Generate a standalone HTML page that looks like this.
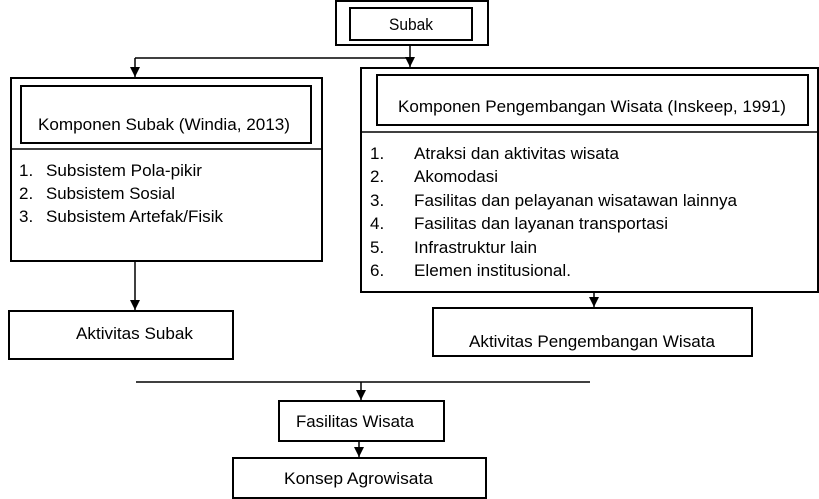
<!DOCTYPE html>
<html><head><meta charset="utf-8"><style>
html,body{margin:0;padding:0;background:#fff;}
svg{display:block;}
text{font-family:"Liberation Sans",Arial,sans-serif;font-size:17px;fill:#000;}
</style></head><body>
<svg width="819" height="499" viewBox="0 0 819 499" xmlns="http://www.w3.org/2000/svg" font-family="Liberation Sans, Arial, sans-serif">
<defs><marker id="a" markerWidth="12" markerHeight="12" refX="10" refY="5" orient="auto" markerUnits="userSpaceOnUse"><path d="M0,0 L10,5 L0,10 Z" fill="#000"/></marker></defs>
<g fill="none" stroke="#000" stroke-width="2">
<rect x="336" y="1" width="152" height="44"/>
<rect x="350" y="8" width="122" height="32"/>
<rect x="11" y="78" width="311" height="183"/>
<rect x="21" y="86" width="290" height="57"/>
<line x1="11" y1="149" x2="322" y2="149" stroke-width="1.5"/>
<rect x="361" y="68" width="457" height="224"/>
<rect x="377" y="75" width="431" height="50"/>
<line x1="361" y1="132" x2="818" y2="132" stroke-width="1.5"/>
<rect x="9" y="311" width="224" height="48"/>
<rect x="433" y="308" width="319" height="48"/>
<rect x="279" y="401" width="165" height="40"/>
<rect x="233" y="458" width="253" height="40"/>
</g>
<g stroke="#000" stroke-width="1.5" fill="none">
<line x1="410" y1="45" x2="410" y2="67" marker-end="url(#a)"/>
<line x1="135" y1="58" x2="410" y2="58"/>
<line x1="135" y1="58" x2="135" y2="77" marker-end="url(#a)"/>
<line x1="135" y1="262" x2="135" y2="310" marker-end="url(#a)"/>
<line x1="594" y1="292" x2="594" y2="307" marker-end="url(#a)"/>
<line x1="136" y1="382" x2="590" y2="382"/>
<line x1="361" y1="382" x2="361" y2="400" marker-end="url(#a)"/>
<line x1="359" y1="441" x2="359" y2="457" marker-end="url(#a)"/>
</g>
<text x="389" y="30" font-size="15" textLength="44" lengthAdjust="spacingAndGlyphs">Subak</text>
<text x="38" y="130" textLength="252" lengthAdjust="spacingAndGlyphs">Komponen Subak (Windia, 2013)</text>
<text x="19" y="176">1.</text><text x="46" y="176" textLength="156" lengthAdjust="spacingAndGlyphs">Subsistem Pola-pikir</text>
<text x="19" y="199">2.</text><text x="46" y="199" textLength="129" lengthAdjust="spacingAndGlyphs">Subsistem Sosial</text>
<text x="19" y="222">3.</text><text x="46" y="222" textLength="177" lengthAdjust="spacingAndGlyphs">Subsistem Artefak/Fisik</text>
<text x="398" y="112" textLength="388" lengthAdjust="spacingAndGlyphs">Komponen Pengembangan Wisata (Inskeep, 1991)</text>
<text x="370" y="159">1.</text><text x="414" y="159" textLength="205" lengthAdjust="spacingAndGlyphs">Atraksi dan aktivitas wisata</text>
<text x="370" y="182">2.</text><text x="414" y="182" textLength="84" lengthAdjust="spacingAndGlyphs">Akomodasi</text>
<text x="370" y="206">3.</text><text x="414" y="206" textLength="323" lengthAdjust="spacingAndGlyphs">Fasilitas dan pelayanan wisatawan lainnya</text>
<text x="370" y="229">4.</text><text x="414" y="229" textLength="254" lengthAdjust="spacingAndGlyphs">Fasilitas dan layanan transportasi</text>
<text x="370" y="253">5.</text><text x="414" y="253" textLength="123" lengthAdjust="spacingAndGlyphs">Infrastruktur lain</text>
<text x="370" y="276">6.</text><text x="414" y="276" textLength="157" lengthAdjust="spacingAndGlyphs">Elemen institusional.</text>
<text x="76" y="339" textLength="117" lengthAdjust="spacingAndGlyphs">Aktivitas Subak</text>
<text x="469" y="347" textLength="246" lengthAdjust="spacingAndGlyphs">Aktivitas Pengembangan Wisata</text>
<text x="296" y="427" textLength="118" lengthAdjust="spacingAndGlyphs">Fasilitas Wisata</text>
<text x="284" y="484" textLength="149" lengthAdjust="spacingAndGlyphs">Konsep Agrowisata</text>
</svg>
</body></html>
